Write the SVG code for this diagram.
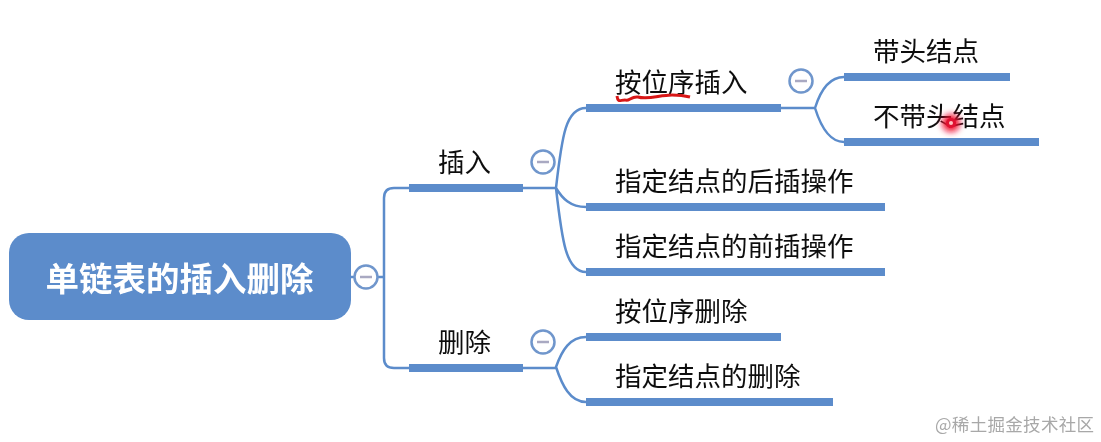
<svg xmlns="http://www.w3.org/2000/svg" width="1101" height="442" viewBox="0 0 1101 442">
<style>
text{font-family:"Noto Sans CJK SC","Noto Sans",sans-serif;font-size:26.5px;fill:#111}
.root{font-size:33.500px;font-weight:700;fill:#fff}
.bar{fill:#5b8ccb}
.c{fill:none;stroke:#5b8ccb;stroke-width:2.5}
.tg{fill:#fff;stroke:#6f96cc;stroke-width:2.5}
.m{stroke:#a9a9c2;stroke-width:2.5}
.wm{font-size:17.500px;fill:#a8a8a8}
</style>
<defs>
<filter id="b" x="-5%" y="-5%" width="110%" height="110%"><feGaussianBlur stdDeviation="0.5"/></filter>
<filter id="g" x="-100%" y="-100%" width="300%" height="300%"><feGaussianBlur stdDeviation="3"/></filter>
</defs>
<rect width="1101" height="442" fill="#fff"/>
<g filter="url(#b)">
<g id="connectors">
<path class="c" d="M351 277H384M409 188H394Q384 188 384 198V358Q384 368 394 368H409"/>
<path class="c" d="M523 188H556M586 108C566 108 562 135 556 188C562 241 566 272 586 272M556 188C562 198 570 207 586 207"/>
<path class="c" d="M523 368H556M586 337C570 337 562 350 556 367C562 385 570 402 586 402"/>
<path class="c" d="M781 108H815M844 77C828 77 820 92 815 108C820 124 828 142 844 142"/>
</g>
<g id="root"><rect x="9" y="233" width="342" height="87" rx="20" fill="#5b8ccb"/><text class="root" x="179.500" y="291" text-anchor="middle">单链表的插入删除</text></g>
<g id="t1"><circle class="tg" cx="366" cy="277" r="11.5"/><line class="m" x1="360" y1="277" x2="372" y2="277"/></g>
<g id="t2"><circle class="tg" cx="543" cy="162" r="11.5"/><line class="m" x1="537" y1="162" x2="549" y2="162"/></g>
<g id="t3"><circle class="tg" cx="543" cy="342" r="11.5"/><line class="m" x1="537" y1="342" x2="549" y2="342"/></g>
<g id="t4"><circle class="tg" cx="801" cy="81" r="11.5"/><line class="m" x1="795" y1="81" x2="807" y2="81"/></g>
<g id="n1"><text x="438" y="172">插入</text><rect class="bar" x="409" y="184" width="114" height="8"/></g>
<g id="n2"><text x="438" y="352">删除</text><rect class="bar" x="409" y="364" width="114" height="8"/></g>
<g id="n3"><text x="615" y="92">按位序插入</text><rect class="bar" x="586" y="104" width="195" height="8"/></g>
<g id="n4"><text x="615" y="191">指定结点的后插操作</text><rect class="bar" x="586" y="203" width="299" height="8"/></g>
<g id="n5"><text x="615" y="256">指定结点的前插操作</text><rect class="bar" x="586" y="268" width="299" height="8"/></g>
<g id="n6"><text x="615" y="321">按位序删除</text><rect class="bar" x="586" y="333" width="195" height="8"/></g>
<g id="n7"><text x="615" y="386">指定结点的删除</text><rect class="bar" x="586" y="398" width="247" height="8"/></g>
<g id="n8"><text x="873" y="61">带头结点</text><rect class="bar" x="844" y="73" width="166" height="8"/></g>
<g id="n9"><text x="873" y="126">不带头结点</text><rect class="bar" x="844" y="138" width="195" height="8"/></g>
<path d="M617 96C618 103 620 100 625 100C629 102 631 96 638 97C648 100 660 95 672 95C680 95 686 96 690 97" fill="none" stroke="#d81818" stroke-width="3"/>
<text class="wm" x="935" y="431" textLength="159" lengthAdjust="spacing">@稀土掘金技术社区</text>
</g>
<circle cx="951" cy="123" r="9" fill="#f01030" filter="url(#g)"/>
<circle cx="951" cy="123" r="5" fill="#e01030"/>
<circle cx="951" cy="123" r="2" fill="#ffc0c0"/>
</svg>
